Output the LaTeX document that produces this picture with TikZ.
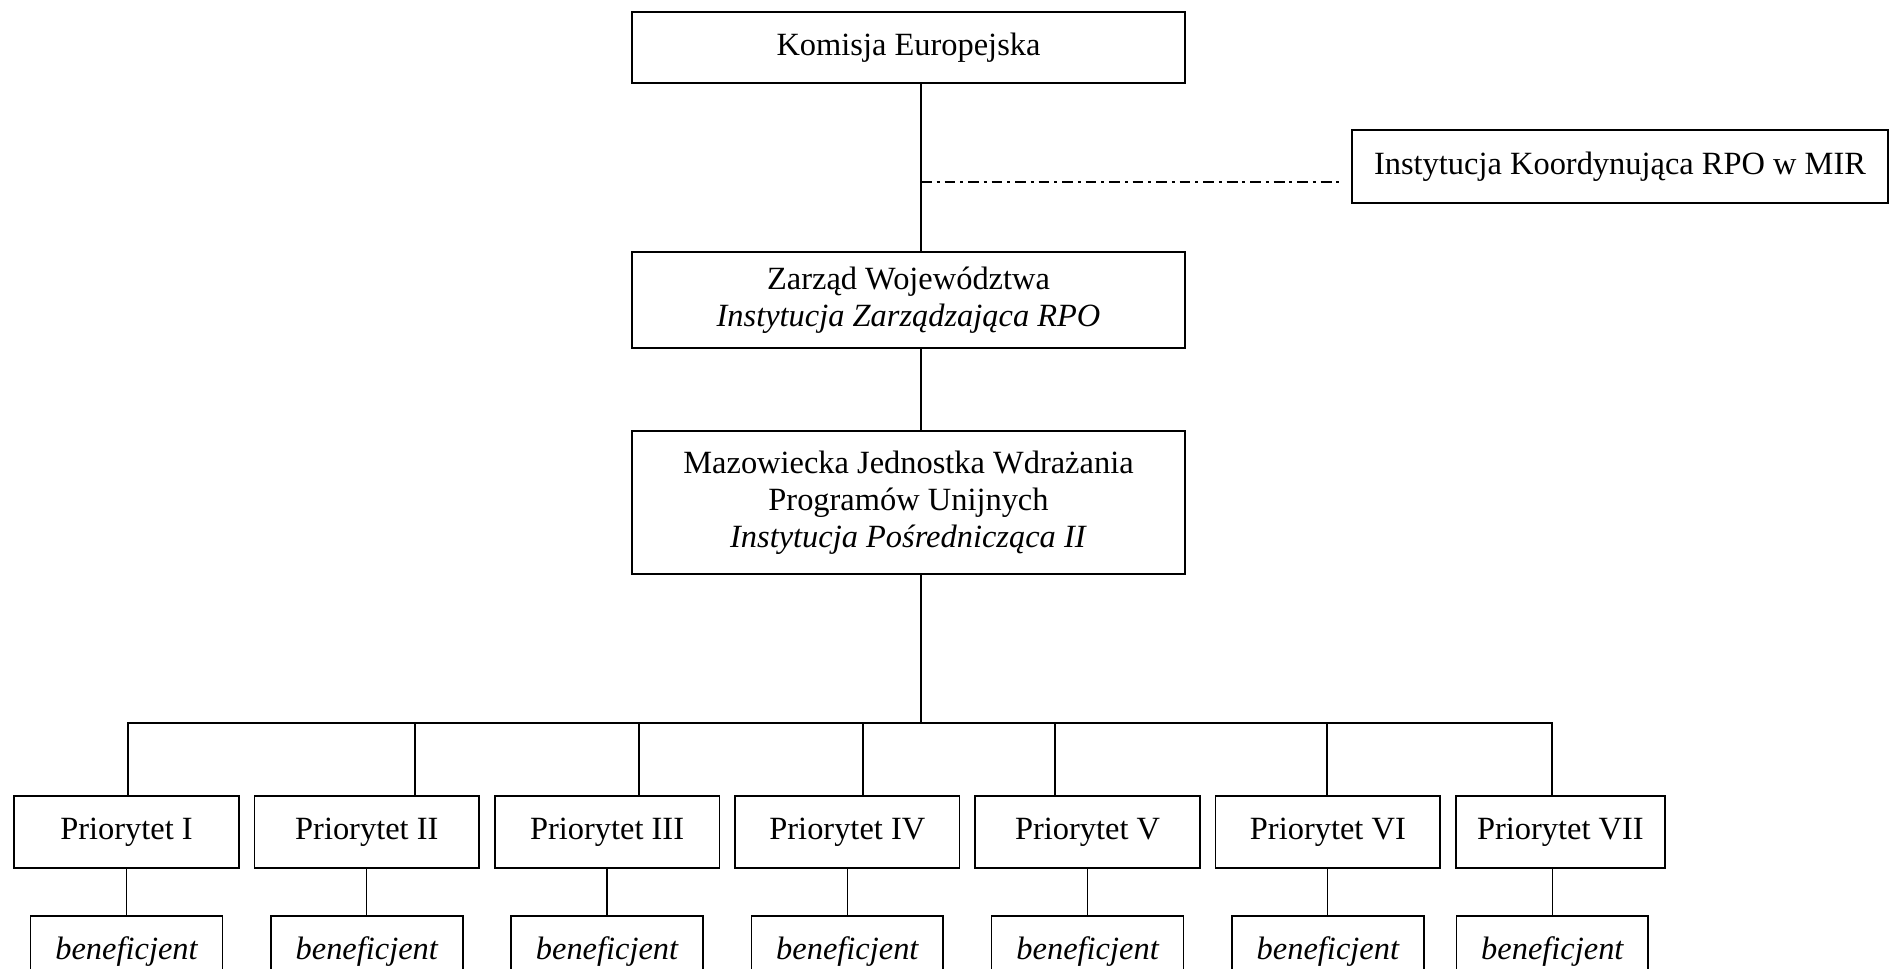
\documentclass[tikz,border=0pt]{standalone}
\usepackage{fontspec}
\setmainfont{Liberation Serif}
\usetikzlibrary{positioning}

\begin{document}
\begin{tikzpicture}[
    x=0.37pt, y=-0.37pt,
    kb/.style={
        draw,
        line width=0.6pt,
        align=center,
        font=\fontsize{12}{13.6}\selectfont,
        minimum width=204.6pt,
        inner sep=0pt,
    },
    pb/.style={kb,minimum width=83.1pt,minimum height=26.6pt,},
    bb/.style={pb,minimum width=71pt,font=\fontsize{12}{13.6}\selectfont\itshape,},
    ln/.style={line width=0.45pt},
    bus/.style={line width=0.6pt},
    dd/.style={
        line width=0.5pt,
        dash pattern=on 4pt off 1.8pt on 1.1pt off 1.8pt,
    },
]
    \useasboundingbox (0,0) rectangle (1890,968);
    % ~~~ upper levels ~~~~~~~~~~~~
    \node[kb,minimum height=26.3pt] (ke) at (908.5,47.5) {Komisja Europejska};
    \node[kb,minimum height=35.5pt] (zw) at (908.5,300)
        {Zarząd Województwa\\ \textit{Instytucja Zarządzająca RPO}};
    \node[kb,minimum height=52.9pt] (mj) at (908.5,502.5)
        {Mazowiecka Jednostka Wdrażania\\ Programów Unijnych\\ \textit{Instytucja Pośrednicząca II}};
    \node[kb,minimum width=198.3pt,minimum height=27pt] (ik) at (1620,166.5)
        {Instytucja Koordynująca RPO w MIR};
    % ~~~ priorities ~~~~~~~~~~~~
    \node[pb] (p1) at (126.5,832) {Priorytet I};
    \node[pb,right=5.2pt of p1] (p2) {Priorytet II};
    \node[pb,right=5.2pt of p2] (p3) {Priorytet III};
    \node[pb,right=5.2pt of p3] (p4) {Priorytet IV};
    \node[pb,right=5.2pt of p4] (p5) {Priorytet V};
    \node[pb,right=5.2pt of p5] (p6) {Priorytet VI};
    \node[pb,right=5.2pt of p6,minimum width=77.3pt] (p7) {Priorytet VII};
    % ~~~ beneficiaries ~~~~~~~~~~~~
    \node[bb,below=17.2pt of p1] (b1) {beneficjent};
    \node[bb,below=17.2pt of p2] (b2) {beneficjent};
    \node[bb,below=17.2pt of p3] (b3) {beneficjent};
    \node[bb,below=17.2pt of p4] (b4) {beneficjent};
    \node[bb,below=17.2pt of p5] (b5) {beneficjent};
    \node[bb,below=17.2pt of p6] (b6) {beneficjent};
    \node[bb,below=17.2pt of p7,xshift=-2.96pt] (b7) {beneficjent};
    % ~~~ connectors ~~~~~~~~~~~~
    \coordinate (ax) at (921,723);
    \coordinate (lk) at (921,182);
    \coordinate (t1) at (128,723);
    \coordinate (t2) at (415,723);
    \coordinate (t3) at (639,723);
    \coordinate (t4) at (863,723);
    \coordinate (t5) at (1055,723);
    \coordinate (t6) at (1327,723);
    \coordinate (t7) at (1552,723);
    \draw[ln] (ke.south -| ax) -- (zw.north -| ax);
    \draw[ln] (zw.south -| ax) -- (mj.north -| ax);
    \draw[ln] (mj.south -| ax) -- (ax);
    \draw[dd] (lk) -- ([xshift=-4.4pt]lk -| ik.west);
    \draw[bus] (t1 |- p1.north) -- (t1) -- (t7) -- (t7 |- p7.north);
    \draw[ln] (t2) -- (t2 |- p2.north);
    \draw[ln] (t3) -- (t3 |- p3.north);
    \draw[ln] (t4) -- (t4 |- p4.north);
    \draw[ln] (t5) -- (t5 |- p5.north);
    \draw[ln] (t6) -- (t6 |- p6.north);
    \draw[ln] (b1.north) -- (b1.north |- p1.south);
    \draw[ln] (b2.north) -- (b2.north |- p2.south);
    \draw[ln] (b3.north) -- (b3.north |- p3.south);
    \draw[ln] (b4.north) -- (b4.north |- p4.south);
    \draw[ln] (b5.north) -- (b5.north |- p5.south);
    \draw[ln] (b6.north) -- (b6.north |- p6.south);
    \draw[ln] (b7.north) -- (b7.north |- p7.south);
\end{tikzpicture}
\end{document}
